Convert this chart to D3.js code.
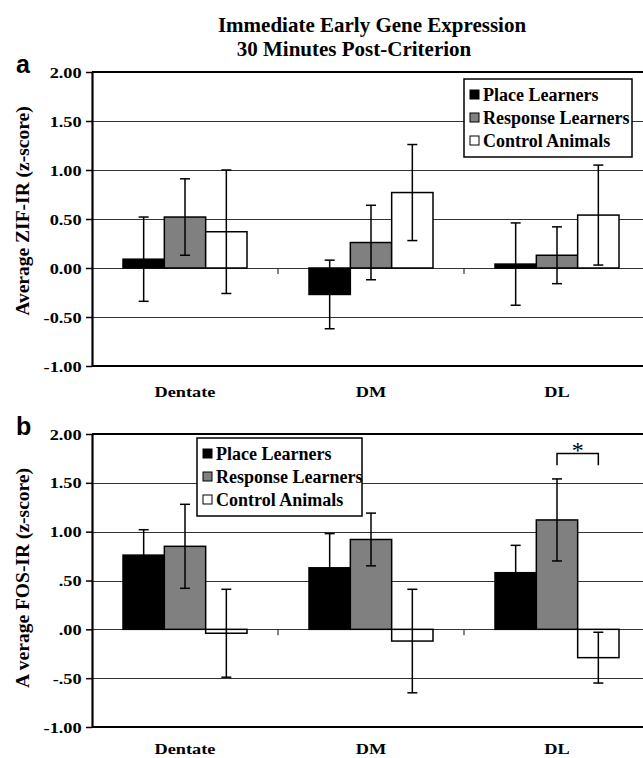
<!DOCTYPE html>
<html>
<head>
<meta charset="utf-8">
<script src="https://cdn.jsdelivr.net/npm/d3@7"></script>
<style>
  html, body { margin: 0; padding: 0; background: #fff; }
  svg { display: block; }
  text { font-family: "Liberation Serif", "Times New Roman", serif; font-weight: bold; fill: #000; }
</style>
</head>
<body>
<svg id="chart" width="643" height="758"></svg>
<script>
// data
const categories = ["Dentate", "DM", "DL"];
const series = ["Place Learners", "Response Learners", "Control Animals"];
const seriesFill = ["#000000", "#808080", "#ffffff"];

const zifPlace = [0.09, -0.27, 0.04];
const zifPlaceErr = [0.43, 0.35, 0.42];
const zifResponse = [0.52, 0.26, 0.13];
const zifResponseErr = [0.39, 0.38, 0.29];
const zifControl = [0.37, 0.77, 0.54];
const zifControlErr = [0.63, 0.49, 0.51];

const fosPlace = [0.76, 0.63, 0.58];
const fosPlaceErr = [0.26, 0.35, 0.28];
const fosResponse = [0.85, 0.92, 1.12];
const fosResponseErr = [0.43, 0.27, 0.42];
const fosControl = [-0.04, -0.12, -0.29];
const fosControlErr = [0.45, 0.53, 0.26];

const tickValues = [2, 1.5, 1, 0.5, 0, -0.5, -1];
const zifTickLabels = ["2.00", "1.50", "1.00", "0.50", "0.00", "-0.50", "-1.00"];
const fosTickLabels = ["2.00", "1.50", "1.00", ".50", ".00", "-.50", "-1.00"];

const svg = d3.select("#chart");

// title
svg.append("text").attr("x", 372).attr("y", 32).attr("text-anchor", "middle")
  .style("font-size", "21px").text("Immediate Early Gene Expression");
svg.append("text").attr("x", 354).attr("y", 56).attr("text-anchor", "middle")
  .style("font-size", "21px").text("30 Minutes Post-Criterion");

function stretched(sel, sx) {
  // source figure text is a little wider than Times
  return sel.attr("transform", function () {
    const x = +d3.select(this).attr("x");
    const y = +d3.select(this).attr("y");
    return `translate(${x},${y}) scale(${sx},1) translate(${-x},${-y})`;
  });
}

function drawPanel(cfg) {
  const left = 92, right = 650;
  const y = d3.scaleLinear().domain([-1, 2]).range([cfg.bottom, cfg.top]);
  const x = d3.scaleBand().domain(categories).range([left, right]);
  const xs = d3.scaleBand().domain(series).range([0, x.bandwidth()]).paddingOuter(0.75);

  const g = svg.append("g");

  // gridlines
  g.selectAll("line.grid").data(tickValues.filter(t => t > -1 && t < 2)).join("line")
    .attr("x1", left).attr("x2", 643)
    .attr("y1", d => Math.round(y(d)) + 0.5).attr("y2", d => Math.round(y(d)) + 0.5)
    .attr("stroke", "#333").attr("stroke-width", 1.2);

  // category separator ticks on the zero line
  g.selectAll("line.ctick").data(categories.slice(1)).join("line")
    .attr("x1", d => x(d)).attr("x2", d => x(d))
    .attr("y1", y(0)).attr("y2", y(0) + 6)
    .attr("stroke", "#333").attr("stroke-width", 1.2);

  // bars
  const rows = [];
  cfg.values.forEach((vals, si) => {
    vals.forEach((v, ci) => {
      rows.push({ cat: categories[ci], s: series[si], si, v, e: cfg.errors[si][ci] });
    });
  });

  g.selectAll("rect.bar").data(rows).join("rect")
    .attr("x", d => x(d.cat) + xs(d.s))
    .attr("width", xs.bandwidth())
    .attr("y", d => y(Math.max(0, d.v)))
    .attr("height", d => Math.abs(y(d.v) - y(0)))
    .attr("fill", d => seriesFill[d.si])
    .attr("stroke", "#000").attr("stroke-width", 1.5);

  // error bars
  const cap = 5;
  const eb = g.selectAll("g.err").data(rows).join("g")
    .attr("transform", d => `translate(${x(d.cat) + xs(d.s) + xs.bandwidth() / 2},0)`);
  eb.append("line").attr("y1", d => y(d.v + d.e)).attr("y2", d => y(d.v - d.e))
    .attr("stroke", "#000").attr("stroke-width", 1.5);
  eb.append("line").attr("x1", -cap).attr("x2", cap)
    .attr("y1", d => y(d.v + d.e)).attr("y2", d => y(d.v + d.e))
    .attr("stroke", "#000").attr("stroke-width", 1.5);
  eb.append("line").attr("x1", -cap).attr("x2", cap)
    .attr("y1", d => y(d.v - d.e)).attr("y2", d => y(d.v - d.e))
    .attr("stroke", "#000").attr("stroke-width", 1.5);

  // frame: top and bottom
  g.append("line").attr("x1", left).attr("x2", 643).attr("y1", y(2)).attr("y2", y(2))
    .attr("stroke", "#000").attr("stroke-width", 2.2);
  g.append("line").attr("x1", left).attr("x2", 643).attr("y1", y(-1)).attr("y2", y(-1))
    .attr("stroke", "#000").attr("stroke-width", 2.2);

  const yAxis = d3.axisLeft(y).tickValues(tickValues).tickSize(6).tickSizeOuter(0)
    .tickFormat((d, i) => cfg.tickLabels[i]);
  const ag = g.append("g").attr("transform", `translate(${left},0)`).call(yAxis);
  ag.select(".domain").attr("stroke", "#000").attr("stroke-width", 2.2);
  ag.selectAll(".tick line").attr("stroke", "#000").attr("stroke-width", 1.5);
  ag.selectAll(".tick text").attr("dy", "0.34em")
    .style("font-family", "'Liberation Serif', serif").style("font-weight", "bold")
    .style("font-size", "15px").attr("fill", "#000")
    .attr("transform", "scale(1.22,1)").attr("x", -8.5);

  // category labels
  const cl = g.selectAll("text.cat").data(categories).join("text")
    .attr("x", d => x(d) + x.bandwidth() / 2).attr("y", cfg.bottom + cfg.catGap)
    .attr("text-anchor", "middle").style("font-size", "15px").text(d => d);
  stretched(cl, 1.22);

  // y axis title
  g.append("text")
    .attr("transform", `translate(29,${cfg.titleY}) rotate(-90)`)
    .attr("text-anchor", "middle").style("font-size", "19.5px").text(cfg.yTitle);

  // panel letter
  svg.append("text").attr("x", 16).attr("y", cfg.top + 1)
    .style("font-family", "'Liberation Sans', Arial, sans-serif")
    .style("font-size", "25px").text(cfg.letter);

  // legend
  const lg = svg.append("g").attr("transform", `translate(${cfg.legend.x},${cfg.legend.y})`);
  lg.append("rect").attr("width", cfg.legend.w).attr("height", 78)
    .attr("fill", "#fff").attr("stroke", "#000").attr("stroke-width", 1.5);
  const item = lg.selectAll("g.item").data(series).join("g")
    .attr("transform", (d, i) => `translate(6,${16 + i * 23})`);
  item.append("rect").attr("x", 0).attr("y", -5).attr("width", 9).attr("height", 9)
    .attr("fill", (d, i) => seriesFill[i]).attr("stroke", "#000").attr("stroke-width", 1);
  item.append("text").attr("x", 13).attr("y", 0).attr("dy", "0.35em")
    .style("font-size", "18px").text(d => d);

  return { x, xs, y, g };
}

drawPanel({
  top: 72, bottom: 366, letter: "a", catGap: 31, titleY: 211,
  values: [zifPlace, zifResponse, zifControl],
  errors: [zifPlaceErr, zifResponseErr, zifControlErr],
  tickLabels: zifTickLabels,
  yTitle: "Average ZIF-IR (z-score)",
  legend: { x: 464, y: 79, w: 168 }
});

const pb = drawPanel({
  top: 434, bottom: 727, letter: "b", catGap: 27, titleY: 578,
  values: [fosPlace, fosResponse, fosControl],
  errors: [fosPlaceErr, fosResponseErr, fosControlErr],
  tickLabels: fosTickLabels,
  yTitle: "A verage FOS-IR (z-score)",
  legend: { x: 197, y: 438, w: 165 }
});

// significance bracket between Response and Control in DL
const bx1 = pb.x("DL") + pb.xs("Response Learners") + pb.xs.bandwidth() / 2;
const bx2 = pb.x("DL") + pb.xs("Control Animals") + pb.xs.bandwidth() / 2;
const byTop = pb.y(1.80), byLeg = pb.y(1.68);
pb.g.append("path")
  .attr("d", `M${bx1},${byLeg}V${byTop}H${bx2}V${byLeg}`)
  .attr("fill", "none").attr("stroke", "#000").attr("stroke-width", 1.5);
pb.g.append("text").attr("x", (bx1 + bx2) / 2).attr("y", byTop + 4)
  .attr("text-anchor", "middle").style("font-size", "24px").style("font-weight", "normal").text("*");
</script>
</body>
</html>
